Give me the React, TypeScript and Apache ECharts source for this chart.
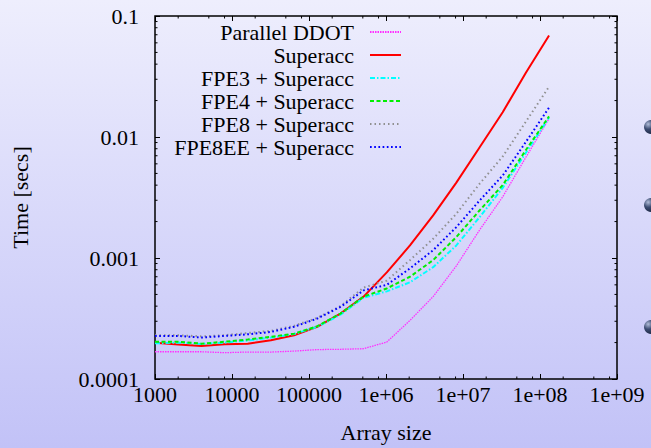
import React, { useEffect, useRef } from "react";
import * as echarts from "echarts";

// ---- data ----
const arraySizes = [
  1000, 2000, 4000, 8000, 16000, 32000, 64000, 128000, 256000, 512000,
  1024000, 2048000, 4096000, 8192000, 16384000, 32768000, 65536000, 131072000,
];
const seriesNames = [
  "Parallel DDOT",
  "Superacc",
  "FPE3 + Superacc",
  "FPE4 + Superacc",
  "FPE8 + Superacc",
  "FPE8EE + Superacc",
];
const parallelDdot = [
  1.68e-4, 1.68e-4, 1.68e-4, 1.65e-4, 1.67e-4, 1.67e-4, 1.7e-4, 1.75e-4, 1.76e-4, 1.78e-4,
  2.02e-4, 3.05e-4, 4.8e-4, 8.6e-4, 1.7e-3, 3.2e-3, 6.8e-3, 1.42e-2,
];
const superacc = [
  1.99e-4, 1.93e-4, 1.87e-4, 1.94e-4, 1.96e-4, 2.09e-4, 2.3e-4, 2.7e-4, 3.47e-4, 4.8e-4,
  7.6e-4, 1.27e-3, 2.25e-3, 4.2e-3, 8.2e-3, 1.6e-2, 3.4e-2, 6.9e-2,
];
const fpe3 = [
  1.97e-4, 2.0e-4, 1.95e-4, 2.0e-4, 2.08e-4, 2.2e-4, 2.35e-4, 2.7e-4, 3.4e-4, 4.7e-4,
  5.3e-4, 6.3e-4, 8.4e-4, 1.27e-3, 2.17e-3, 3.8e-3, 7.4e-3, 1.45e-2,
];
const fpe4 = [
  2.03e-4, 2.03e-4, 1.96e-4, 2.03e-4, 2.12e-4, 2.23e-4, 2.37e-4, 2.73e-4, 3.47e-4, 4.8e-4,
  5.6e-4, 7.0e-4, 9.6e-4, 1.49e-3, 2.47e-3, 4.0e-3, 7.8e-3, 1.48e-2,
];
const fpe8 = [
  2.3e-4, 2.3e-4, 2.25e-4, 2.3e-4, 2.4e-4, 2.5e-4, 2.75e-4, 3.2e-4, 4.0e-4, 5.7e-4,
  6.5e-4, 9.6e-4, 1.44e-3, 2.32e-3, 4.1e-3, 6.9e-3, 1.34e-2, 2.61e-2,
];
const fpe8ee = [
  2.27e-4, 2.27e-4, 2.2e-4, 2.27e-4, 2.34e-4, 2.45e-4, 2.7e-4, 3.16e-4, 3.94e-4, 5.4e-4,
  6.0e-4, 8.2e-4, 1.16e-3, 1.8e-3, 2.98e-3, 4.8e-3, 9.1e-3, 1.75e-2,
];
const xTickLabels = ["1000", "10000", "100000", "1e+06", "1e+07", "1e+08", "1e+09"];
const yTickLabels = ["0.0001", "0.001", "0.01", "0.1"];
const xMinorTicks = [
  2e3, 5e3, 8e3, 2e4, 5e4, 8e4, 2e5, 5e5, 8e5, 2e6, 5e6, 8e6, 2e7, 5e7, 8e7, 2e8, 5e8, 8e8,
];
const yMinorTicks = [
  2e-4, 3e-4, 4e-4, 5e-4, 6e-4, 7e-4, 8e-4, 9e-4,
  2e-3, 3e-3, 4e-3, 5e-3, 6e-3, 7e-3, 8e-3, 9e-3,
  2e-2, 3e-2, 4e-2, 5e-2, 6e-2, 7e-2, 8e-2, 9e-2,
];

const X_MIN = 1000, X_MAX = 1e9, Y_MIN = 1e-4, Y_MAX = 0.1;
const FONT = "Liberation Serif";

export default function App() {
  const ref = useRef<HTMLDivElement>(null);
  useEffect(() => {
    if (!ref.current) return;
    const chart = echarts.init(ref.current, null, { renderer: "svg" });

    const values = [parallelDdot, superacc, fpe3, fpe4, fpe8, fpe8ee];
    const styles = [
      { color: "#ff30ff", width: 1.3, type: [1.5, 1] },
      { color: "#ff0000", width: 2, type: "solid" },
      { color: "#00ffff", width: 2, type: [5, 2, 1.5, 2] },
      { color: "#00ee00", width: 2, type: [4, 2.5] },
      { color: "#909090", width: 2, type: [1.5, 3] },
      { color: "#0000ff", width: 2, type: [1.7, 2.5] },
    ];

    const xLabel = (v: number) => {
      const e = Math.round(Math.log10(v)) - 3;
      return xTickLabels[e] ?? "";
    };
    const yLabel = (v: number) => {
      const e = Math.round(Math.log10(v)) + 4;
      return yTickLabels[e] ?? "";
    };

    const baseX = {
      type: "log",
      logBase: 10,
      min: X_MIN,
      max: X_MAX,
      splitNumber: 6,
      splitLine: { show: false },
      axisLine: { show: false },
      axisTick: { show: true, inside: true, length: 5, lineStyle: { color: "#000", width: 1 } },
    };
    const baseY = {
      type: "log",
      logBase: 10,
      min: Y_MIN,
      max: Y_MAX,
      splitNumber: 3,
      splitLine: { show: false },
      axisLine: { show: false },
      axisTick: { show: true, inside: true, length: 5, lineStyle: { color: "#000", width: 1 } },
    };

    const minorTickStyle = { stroke: "#000", lineWidth: 1 };
    const txt = { fontFamily: FONT, fontSize: 22, color: "#000" };

    const option: any = {
      animation: false,
      backgroundColor: new echarts.graphic.LinearGradient(0, 0, 0, 1, [
        { offset: 0, color: "#eeeefd" },
        { offset: 1, color: "#c2c2f7" },
      ]),
      textStyle: { fontFamily: FONT },
      grid: {
        left: 155,
        right: 34,
        top: 16,
        bottom: 69,
        show: true,
        borderColor: "#000",
        borderWidth: 1.5,
        backgroundColor: "transparent",
        containLabel: false,
        outerBoundsMode: "none",
      },
      legend: {
        orient: "vertical",
        right: 249,
        top: 21,
        align: "right",
        itemWidth: 31,
        itemHeight: 10,
        itemGap: 1,
        padding: 0,
        selectedMode: false,
        itemStyle: { opacity: 0, borderWidth: 0 },
        formatter: (name: string) => `{t|${name}\u00a0\u00a0}`,
        textStyle: { ...txt, rich: { t: { ...txt } } },
        data: seriesNames.map((name) => ({ name, textStyle: { ...txt, rich: { t: { ...txt } } } })),
      },
      xAxis: [
        {
          ...baseX,
          position: "bottom",
          name: "Array size",
          nameLocation: "middle",
          nameGap: 42,
          nameMoveOverlap: false,
          nameTextStyle: { ...txt },
          axisLabel: { show: true, margin: 4, ...txt, formatter: xLabel, showMinLabel: true, showMaxLabel: true, hideOverlap: false },
        },
        { ...baseX, position: "top", axisLabel: { show: false } },
      ],
      yAxis: [
        {
          ...baseY,
          position: "left",
          name: "Time [secs]",
          nameLocation: "middle",
          nameGap: 124,
          nameMoveOverlap: false,
          nameRotate: 90,
          nameTextStyle: { ...txt },
          axisLabel: { show: true, margin: 16, ...txt, formatter: yLabel, showMinLabel: true, showMaxLabel: true, hideOverlap: false },
        },
        { ...baseY, position: "right", axisLabel: { show: false } },
      ],
      graphic: [
        { y: 127 },
        { y: 205 },
        { y: 327 },
      ].map((b) => ({
        type: "circle",
        shape: { cx: 651, cy: b.y, r: 7 },
        style: {
          fill: new echarts.graphic.RadialGradient(0.3, 0.3, 0.8, [
            { offset: 0, color: "#b0bcd8" },
            { offset: 0.45, color: "#3c4c72" },
            { offset: 1, color: "#18223c" },
          ]),
        },
        silent: true,
      })),
      series: [
        ...seriesNames.map((name, i) => ({
          name,
          type: "line",
          xAxisIndex: 0,
          yAxisIndex: 0,
          symbol: "none",
          showSymbol: false,
          smooth: false,
          color: styles[i].color,
          lineStyle: { color: styles[i].color, width: styles[i].width, type: styles[i].type },
          data: arraySizes.map((s, j) => [s, values[i][j]]),
          z: 3,
        })),
        {
          type: "custom",
          name: "xminor",
          xAxisIndex: 0,
          yAxisIndex: 0,
          silent: true,
          clip: false,
          data: xMinorTicks.map((v) => [v, Y_MIN]),
          renderItem: (params: any, api: any) => {
            const p = api.coord([api.value(0), Y_MIN]);
            const cs = params.coordSys;
            const b = cs.y + cs.height;
            return {
              type: "group",
              children: [
                { type: "line", shape: { x1: p[0], y1: b, x2: p[0], y2: b - 2.5 }, style: minorTickStyle },
                { type: "line", shape: { x1: p[0], y1: cs.y, x2: p[0], y2: cs.y + 2.5 }, style: minorTickStyle },
              ],
            };
          },
        },
        {
          type: "custom",
          name: "yminor",
          xAxisIndex: 0,
          yAxisIndex: 0,
          silent: true,
          clip: false,
          data: yMinorTicks.map((v) => [X_MIN, v]),
          renderItem: (params: any, api: any) => {
            const p = api.coord([X_MIN, api.value(1)]);
            const cs = params.coordSys;
            const r = cs.x + cs.width;
            return {
              type: "group",
              children: [
                { type: "line", shape: { x1: cs.x, y1: p[1], x2: cs.x + 2.5, y2: p[1] }, style: minorTickStyle },
                { type: "line", shape: { x1: r, y1: p[1], x2: r - 2.5, y2: p[1] }, style: minorTickStyle },
              ],
            };
          },
        },
      ],
    };

    chart.setOption(option);
    return () => chart.dispose();
  }, []);

  return (
    <div
      ref={ref}
      style={{ position: "fixed", left: 0, top: 0, width: 651, height: 448 }}
    />
  );
}
